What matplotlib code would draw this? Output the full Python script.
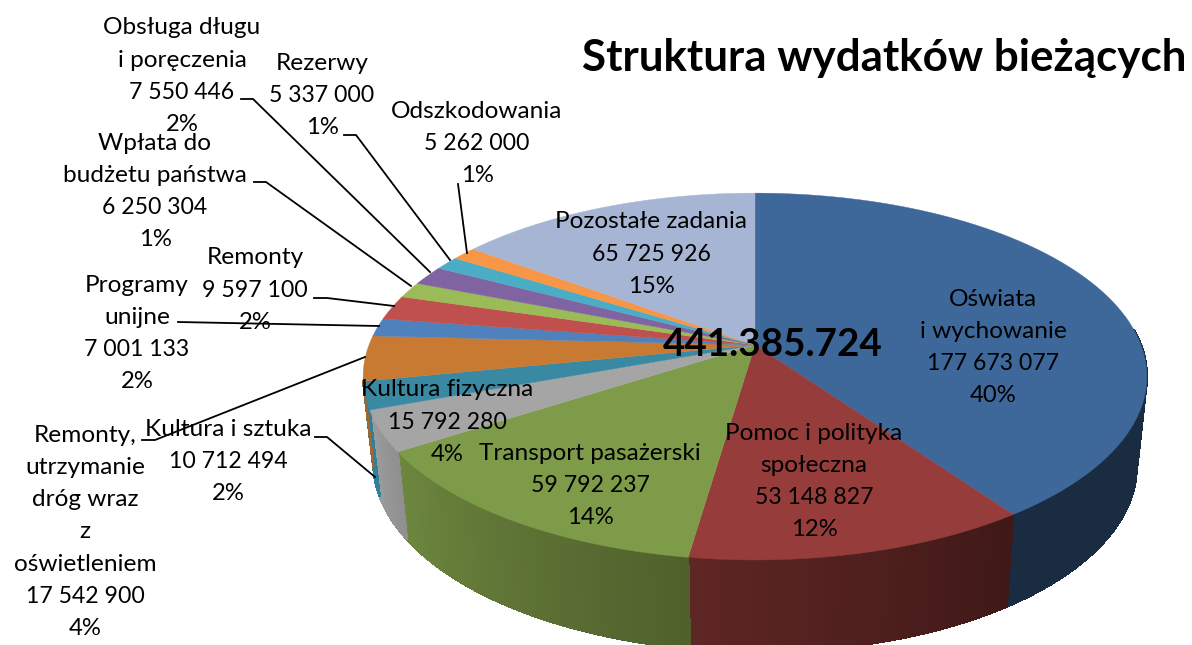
import numpy as np
import matplotlib
matplotlib.use('Agg')
import matplotlib.pyplot as plt

plt.rcParams['font.family'] = ['Lato', 'DejaVu Sans']

names = ['Oświata\ni wychowanie', 'Pomoc i polityka\nspołeczna', 'Transport pasażerski',
         'Kultura fizyczna', 'Kultura i sztuka',
         'Remonty,\nutrzymanie\ndróg wraz\nz\noświetleniem',
         'Programy\nunijne', 'Remonty', 'Wpłata do\nbudżetu państwa',
         'Obsługa długu\ni poręczenia', 'Rezerwy', 'Odszkodowania', 'Pozostałe zadania']
values = [177673077, 53148827, 59792237, 15792280, 10712494, 17542900, 7001133,
          9597100, 6250304, 7550446, 5337000, 5262000, 65725926]
percents = [40, 12, 14, 4, 2, 4, 2, 2, 1, 2, 1, 1, 15]
top_colors = ['#3E6899', '#963C3B', '#7E9B49', '#A5A5A5', '#3A89A3', '#C87A33', '#4F81BD',
              '#C0504D', '#9BBB59', '#8064A2', '#4BACC6', '#F79646', '#A7B5D4']
# wall colour at the start and the end of each slice (clockwise)
wall_start = ['#1A2C42', '#3F1917', '#50602C', '#8F8F8F', '#2F8098', '#A8652A', '#3F6797',
              '#9A403E', '#7C9647', '#665082', '#3C8A9E', '#C67838', '#8691AA']
wall_end = ['#1A2C42', '#5F2624', '#6D873F', '#9C9C9C', '#2F8098', '#A8652A', '#3F6797',
            '#9A403E', '#7C9647', '#665082', '#3C8A9E', '#C67838', '#8691AA']

title = 'Struktura wydatków bieżących'
total_label = '441.385.724'

# label anchor: x centre, y of first line
label_x = [993, 814, 590, 447, 228, 85, 137, 255, 155, 182, 322, 477, 651]
label_y = [299, 433, 453, 390, 429, 435, 285, 258, 143, 28, 63, 111, 222]

leaders = [
    [(241, 99), (253, 99), (430, 272)],
    [(344, 135), (356, 135), (450, 260)],
    [(458, 184), (467, 253)],
    [(254, 182), (266, 182), (411, 286)],
    [(314, 298), (327, 298), (394, 306)],
    [(178, 322), (379, 326)],
    [(142, 440), (155, 440), (365, 357)],
    [(315, 437), (327, 437), (375, 477)],
]

cx, cy = 755, 345
k = 0.172


def rim(deg):
    # perspective circle, angle clockwise from 12 o'clock
    t = np.radians(deg)
    s = 1 / (1 + k * np.cos(t))
    return np.sin(t) * s, np.cos(t) * s


def top_xy(deg):
    xs, ys = rim(deg)
    return cx + 386 * xs, cy - 178 * ys


def bottom_xy(deg):
    xs, ys = rim(deg)
    return cx + 376 * xs, 432 - 182 * ys + 2 * xs


def mix(c1, c2, f):
    a = np.array(matplotlib.colors.to_rgb(c1))
    b = np.array(matplotlib.colors.to_rgb(c2))
    return a + (b - a) * f


def label_size(line):
    # Lato digits run wider than the original font
    if line.endswith('%'):
        return 17.2
    if line[0].isdigit():
        return 16.6
    return 17.6


fig = plt.figure(figsize=(11.92, 6.45), dpi=100)
ax = fig.add_axes([0, 0, 1, 1])
ax.set_xlim(0, 1192)
ax.set_ylim(645, 0)
ax.axis('off')

edges = np.concatenate([[0], np.cumsum(values)]) / sum(values) * 360

# walls first, front part only
for i in range(len(values)):
    a0, a1 = max(edges[i], 85), min(edges[i + 1], 259)
    if a1 <= a0:
        continue
    for a in np.arange(a0, a1, 0.5):
        b = min(a + 0.6, a1)
        f = (a - edges[i]) / (edges[i + 1] - edges[i])
        col = mix(wall_start[i], wall_end[i], f)
        tx, ty = top_xy(np.array([a, b]))
        bx, by = bottom_xy(np.array([b, a]))
        ax.fill(np.r_[tx, bx], np.r_[ty, by], color=col, lw=1.0, zorder=1, antialiased=False)

# top face
for i in range(len(values)):
    deg = np.linspace(edges[i], edges[i + 1], 80)
    x, y = top_xy(deg)
    ax.fill(np.r_[cx, x], np.r_[cy, y], color=top_colors[i], lw=0.3, zorder=2)

for pts in leaders:
    xs, ys = zip(*pts)
    ax.plot(xs, ys, color='black', lw=1.3, zorder=3, solid_joinstyle='miter')

for i in range(len(values)):
    lines = names[i].split('\n')
    lines.append(f'{values[i]:,}'.replace(',', ' '))
    lines.append(f'{percents[i]}%')
    for j, line in enumerate(lines):
        ax.text(label_x[i], label_y[i] + j * 32.3, line, ha='center', va='center',
                fontsize=label_size(line), color='black', zorder=4)

ax.text(884.5, 58, title, ha='center', va='center', fontsize=31.7, fontweight='bold', zorder=4)
ax.text(773, 344, total_label, ha='center', va='center', fontsize=27.8, fontweight='bold', zorder=4)

fig.savefig('out.png', dpi=100)
